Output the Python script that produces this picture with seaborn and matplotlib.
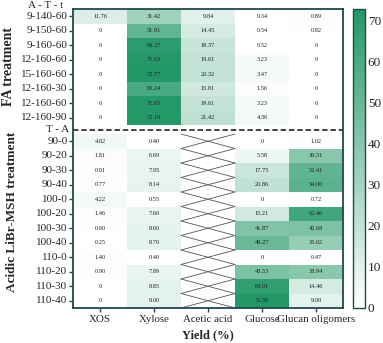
import numpy as np
import pandas as pd
import matplotlib
matplotlib.use("Agg")
import matplotlib.pyplot as plt
import seaborn as sns
from matplotlib.colors import LinearSegmentedColormap

# ---------------- data ----------------
columns = ["XOS", "Xylose", "Acetic acid", "Glucose", "Glucan oligomers"]

fa_rows = ["9-140-60", "9-150-60", "9-160-60", "12-160-60", "15-160-60",
           "12-160-30", "12-160-60", "12-160-90"]
fa_xos = [11.76, 0, 0, 0, 0, 0, 0, 0]
fa_xylose = [31.42, 51.91, 69.37, 71.63, 72.77, 60.24, 71.63, 72.19]
fa_acetic = [9.84, 14.45, 18.37, 19.61, 20.32, 15.81, 19.61, 21.42]
fa_glucose = [0.34, 0.54, 0.52, 3.23, 3.47, 1.56, 3.23, 4.36]
fa_go = [0.89, 0.82, 0, 0, 0, 0, 0, 0]

libr_rows = ["90-0", "90-20", "90-30", "90-40", "100-0", "100-20", "100-30",
             "100-40", "110-0", "110-20", "110-30", "110-40"]
libr_xos = [4.82, 1.81, 0.91, 0.77, 4.22, 1.46, 0.60, 0.25, 1.40, 0.90, 0, 0]
libr_xylose = [0.40, 6.69, 7.95, 8.14, 0.55, 7.60, 8.60, 8.70, 0.40, 7.89, 8.85, 9.00]
libr_acetic = [np.nan] * 12  # not measured (crossed cells)
libr_glucose = [0, 5.58, 17.75, 20.86, 0, 15.21, 41.87, 49.27, 0, 43.53, 68.01, 72.56]
libr_go = [1.02, 39.51, 52.41, 54.06, 0.72, 62.46, 42.68, 35.02, 0.47, 38.94, 14.46, 9.00]

cbar_ticks = [0, 10, 20, 30, 40, 50, 60, 70]

fa_df = pd.DataFrame(dict(zip(columns, [fa_xos, fa_xylose, fa_acetic, fa_glucose, fa_go])),
                     index=fa_rows)
libr_df = pd.DataFrame(dict(zip(columns, [libr_xos, libr_xylose, libr_acetic, libr_glucose, libr_go])),
                       index=libr_rows)


def labels(df):
    return df.map(lambda v: "" if pd.isna(v) else ("0" if v == 0 else f"{v:.2f}"))


# ---------------- style ----------------
sns.set_style("white")
plt.rcParams["font.family"] = ["Liberation Serif", "DejaVu Serif"]
frame_c = "#1f4a4a"
cmap = LinearSegmentedColormap.from_list("wg", ["#ffffff", "#239768"])
vmax = max(fa_df.max().max(), libr_df.max().max())

W, H = 383, 343
fig = plt.figure(figsize=(W / 100, H / 100), dpi=100)


def rect(x0, y0, x1, y1):
    return [x0 / W, 1 - y1 / H, (x1 - x0) / W, (y1 - y0) / H]


X0, X1 = 73, 343
TOP, FA_BOT, LI_TOP, BOT = 9, 125, 134, 308

ax_top = fig.add_axes(rect(X0, TOP, X1, FA_BOT))
ax_bot = fig.add_axes(rect(X0, LI_TOP, X1, BOT))
cax = fig.add_axes(rect(353, TOP, 365, BOT))

akw = {"fontsize": 4.6, "color": "#222222"}
sns.heatmap(fa_df, ax=ax_top, cmap=cmap, vmin=0, vmax=vmax, annot=labels(fa_df), fmt="",
            annot_kws=akw, cbar=False, xticklabels=True, yticklabels=True)
sns.heatmap(libr_df, ax=ax_bot, cmap=cmap, vmin=0, vmax=vmax, annot=labels(libr_df), fmt="",
            annot_kws=akw, cbar=True, cbar_ax=cax, xticklabels=True, yticklabels=True)

# crossed cells for missing values
ci = columns.index("Acetic acid")
for i, v in enumerate(libr_acetic):
    if pd.isna(v):
        ax_bot.plot([ci, ci + 1], [i, i + 1], color="#555555", lw=0.6)
        ax_bot.plot([ci, ci + 1], [i + 1, i], color="#555555", lw=0.6)

for ax in (ax_top, ax_bot):
    for s in ax.spines.values():
        s.set_visible(False)
    ax.set_xlabel("")
    ax.set_ylabel("")
    ax.tick_params(axis="y", left=True, length=3, width=1, color=frame_c, pad=1,
                   labelsize=8, rotation=0)
ax_top.tick_params(axis="x", bottom=False, labelbottom=False)
ax_bot.tick_params(axis="x", bottom=True, length=3, width=1, color=frame_c, pad=2,
                   labelsize=7.8, rotation=0)

# frame around whole heatmap with dashed separator
fr = fig.add_axes(rect(X0, TOP, X1, BOT), facecolor="none", zorder=5)
fr.set_xticks([])
fr.set_yticks([])
fr.set_xlim(0, 1)
fr.set_ylim(BOT, TOP)
for s in fr.spines.values():
    s.set_color(frame_c)
    s.set_linewidth(1.3)
fr.axhline((FA_BOT + LI_TOP) / 2, color="#333333", lw=1.3, ls=(0, (3, 1.6)))

# colorbar
cb = ax_bot.collections[0].colorbar
cb.set_ticks(cbar_ticks)
cb.outline.set_edgecolor(frame_c)
cb.outline.set_linewidth(1.0)
cax.tick_params(direction="in", length=3, width=0.8, color=frame_c, labelsize=9.5, pad=2)

# header & group labels
fig.text(63 / W, 1 - 5 / H, "A - T - t", ha="right", va="center", fontsize=8)
fig.text(69 / W, 1 - 129.5 / H, "T - A", ha="right", va="center", fontsize=8)
fig.text(9 / W, 1 - (TOP + FA_BOT) / 2 / H, "FA treatment", rotation=90, ha="center",
         va="center", fontsize=10, fontweight="bold")
fig.text(12 / W, 1 - 212 / H, "Acidic LiBr-MSH treatment", rotation=90, ha="center",
         va="center", fontsize=9.5, fontweight="bold")
fig.text(208 / W, 1 - 335 / H, "Yield (%)", ha="center", va="center", fontsize=9,
         fontweight="bold")

fig.savefig("out.png", dpi=100)
